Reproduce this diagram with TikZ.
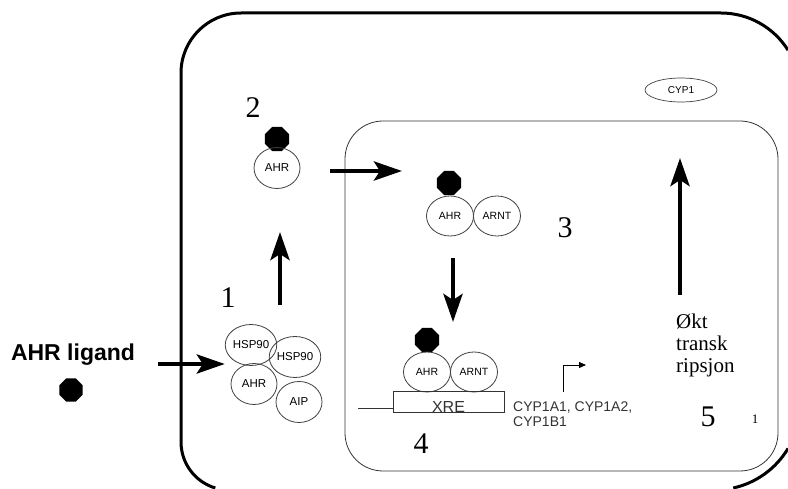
\documentclass[tikz,border=0pt]{standalone}
\usepackage{fontspec}
\setmainfont{Liberation Serif}
\setsansfont{Liberation Sans}
\usetikzlibrary{shapes.geometric,arrows.meta}
\begin{document}
\begin{tikzpicture}[x=1pt,y=1pt,
 prot/.style={ellipse,draw=black!75,line width=0.8pt,minimum width=46pt,minimum height=41pt,inner sep=0pt,font=\sffamily\fontsize{10.5}{12}\selectfont},
 bigprot/.style={prot,font=\sffamily\fontsize{11.5}{13}\selectfont},
 lig/.style={regular polygon,regular polygon sides=8,fill=black,draw=none,minimum size=26pt,inner sep=0pt},
 bigarrow/.style={line width=4.5pt,-{Stealth[length=28pt,width=19pt,inset=6pt]}},
 num/.style={font=\fontsize{30}{30}\selectfont,inner sep=0pt},
 thin/.style={draw=black!80,line width=0.8pt},
 cell/.style={line width=3pt}
]
\path[use as bounding box] (0,0) rectangle (788,488);
% outer cell (only the part inside the picture)
\draw[cell] (215.3,0) arc[start angle=253.4,end angle=180,radius=48]
  -- (181,415) arc[start angle=180,end angle=90,radius=60]
  -- (721,475) arc[start angle=90,end angle=32,radius=79];
\draw[cell] (788,39.5) arc[start angle=-30.8,end angle=-77.6,radius=85];
% nucleus
\draw[thin,rounded corners=38pt] (345,17) rectangle (778,367);

% ligand
\node[font=\sffamily\bfseries\fontsize{23}{26}\selectfont,inner sep=0pt] (lt) at (73,133) {AHR ligand};
\node[lig,minimum size=25pt] (l0) at (71,98) {};

% complex 1
\node[bigprot] (h1) at (251,143) {HSP90};
\node[bigprot] (h2) at (295,131) {HSP90};
\node[bigprot] (a1) at (254,104) {AHR};
\node[bigprot] (p1) at (299,86) {AIP};
\node[num] (n1) at (228,190) {1};
\coordinate (as) at (158,124);
\draw[bigarrow] (as) -- (as -| h1.west);
\coordinate (u1s) at (280,183);
\coordinate (u1e) at (280,256);
\draw[bigarrow] (u1s) -- (u1e);

% complex 2
\node[num] (n2) at (253,380) {2};
\node[lig] (l2) at (277,349) {};
\node[bigprot] (a2) at (277,320) {AHR};
\coordinate (r1s) at (330,317);
\coordinate (r1e) at (402,317);
\draw[bigarrow] (r1s) -- (r1e);

% complex 3
\node[lig] (l3) at (449,305) {};
\node[prot,minimum width=47pt,minimum height=40pt] (a3) at (450,272) {AHR};
\node[prot,minimum width=47pt,minimum height=40pt] (r3) at (497,272) {ARNT};
\node[num] (n3) at (565,260) {3};
\coordinate (d1s) at (453,230);
\coordinate (d1e) at (453,166);
\draw[bigarrow] (d1s) -- (d1e);

% complex 4
\node[lig] (l4) at (427,148) {};
\node[prot,minimum width=47pt,minimum height=40pt] (a4) at (427,116) {AHR};
\node[prot,minimum width=47pt,minimum height=40pt] (r4) at (474,116) {ARNT};
\node[draw=black!80,line width=0.8pt,minimum width=111pt,minimum height=21pt,inner sep=0pt,anchor=south west] (xre) at (393,75) {};
\node[anchor=base,font=\sffamily\fontsize{16}{18}\selectfont,text=black!80,inner sep=0pt] (xt) at (448.5,76) {XRE};
\coordinate (dl) at (358,80);
\draw[thin] (dl) -- (dl -| xre.west);
\node[anchor=north west,align=left,font=\sffamily\fontsize{14}{15}\selectfont,text=black!80,inner sep=0pt] (cyp) at (513,86) {CYP1A1, CYP1A2,\\CYP1B1};
\coordinate (ts) at (563,96);
\coordinate (tc) at (563,123);
\coordinate (te) at (586,123);
\draw[line width=0.9pt,-{Triangle[length=7pt,width=6pt]}] (ts) -- (tc) -- (te);
\node[num] (n4) at (421,44) {4};

% step 5
\node[num] (n5) at (708,71) {5};
\node[font=\fontsize{13}{14}\selectfont,inner sep=0pt] (sm) at (755,69) {1};
\coordinate (u2s) at (680,193);
\coordinate (u2e) at (680,330);
\draw[bigarrow] (u2s) -- (u2e);
\node[anchor=north west,align=left,font=\fontsize{21}{22}\selectfont,inner sep=0pt] (okt) at (676,174) {Økt\\transk\\ripsjon};
\node[ellipse,draw=black!75,line width=0.7pt,minimum width=72pt,minimum height=24pt,inner sep=0pt,font=\sffamily\fontsize{10}{11}\selectfont] (c1) at (681,398) {CYP1};
\end{tikzpicture}
\end{document}
